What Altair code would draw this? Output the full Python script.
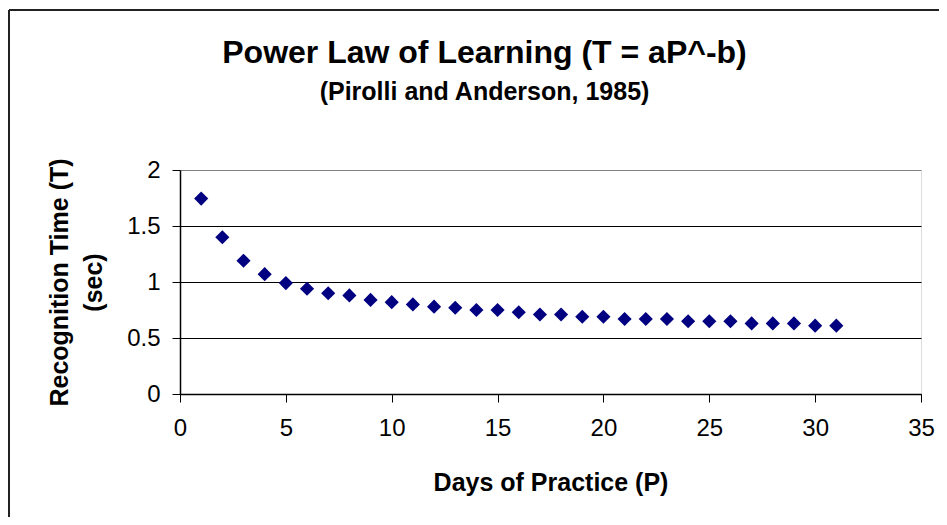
import altair as alt
import pandas as pd

days = list(range(1, 32))
recognition_time = [1.745, 1.40, 1.19, 1.07, 0.99, 0.94, 0.90, 0.88, 0.84, 0.82,
                    0.80, 0.78, 0.77, 0.75, 0.75, 0.73, 0.71, 0.71, 0.69, 0.69,
                    0.67, 0.67, 0.67, 0.65, 0.65, 0.65, 0.63, 0.63, 0.63, 0.61, 0.61]
x_ticks = [0, 5, 10, 15, 20, 25, 30, 35]
y_ticks = [0, 0.5, 1, 1.5, 2]

df = pd.DataFrame({"P": days, "T": recognition_time})
FONT = "Liberation Sans"

points = alt.Chart(df).mark_point(
    shape="diamond", filled=True, color="#000080", size=200, opacity=1
).encode(
    x=alt.X("P:Q", scale=alt.Scale(domain=[0, 35], nice=False),
            axis=alt.Axis(values=x_ticks, title="Days of Practice (P)", grid=False,
                          tickSize=8, tickColor="black", domainColor="black", domainWidth=1.5,
                          labelFontSize=24, labelFont=FONT, labelColor="black", labelPadding=14,
                          titleFont=FONT, titleFontSize=25, titleFontWeight="bold",
                          titleColor="black", titlePadding=30, labelFlush=False)),
    y=alt.Y("T:Q", scale=alt.Scale(domain=[0, 2], nice=False),
            axis=alt.Axis(values=y_ticks, format=".1~f",
                          title=["Recognition Time (T)", "(sec)"],
                          grid=True,
                          gridColor=alt.condition("datum.value == 2", alt.value("#808080"), alt.value("black")),
                          gridWidth=1,
                          tickSize=8, tickColor="black", domainColor="black", domainWidth=1.5,
                          labelFontSize=24, labelFont=FONT, labelColor="black", labelPadding=12,
                          titleFont=FONT, titleFontSize=25, titleFontWeight="bold",
                          titleColor="black", titlePadding=20, titleLineHeight=34,
                          labelFlush=False)),
)

frame_df = pd.DataFrame({"a": [0]})
frame_top = alt.Chart(frame_df).mark_rule(stroke="#222222", strokeWidth=2).encode(
    x=alt.value(-171), x2=alt.value(800), y=alt.value(-160)
)
frame_left = alt.Chart(frame_df).mark_rule(stroke="#222222", strokeWidth=2).encode(
    x=alt.value(-171), y=alt.value(-160), y2=alt.value(420)
)

chart = alt.layer(frame_top, frame_left, points).properties(
    width=741, height=224,
    autosize=alt.AutoSizeParams(type="none"),
    padding={"left": 172, "top": 162, "right": 18, "bottom": 123},
    title=alt.TitleParams(
        text="Power Law of Learning (T = aP^-b)",
        subtitle="(Pirolli and Anderson, 1985)",
        anchor="middle", frame="group", dx=-66,
        font=FONT, fontSize=32, fontWeight="bold", color="black",
        subtitleFont=FONT, subtitleFontSize=25, subtitleFontWeight="bold",
        subtitleColor="black", subtitlePadding=10, offset=-97,
    ),
).configure_view(stroke="#808080", strokeWidth=2).configure(background="white")

chart.save("out.html", embed_options={"renderer": "svg", "actions": False})
